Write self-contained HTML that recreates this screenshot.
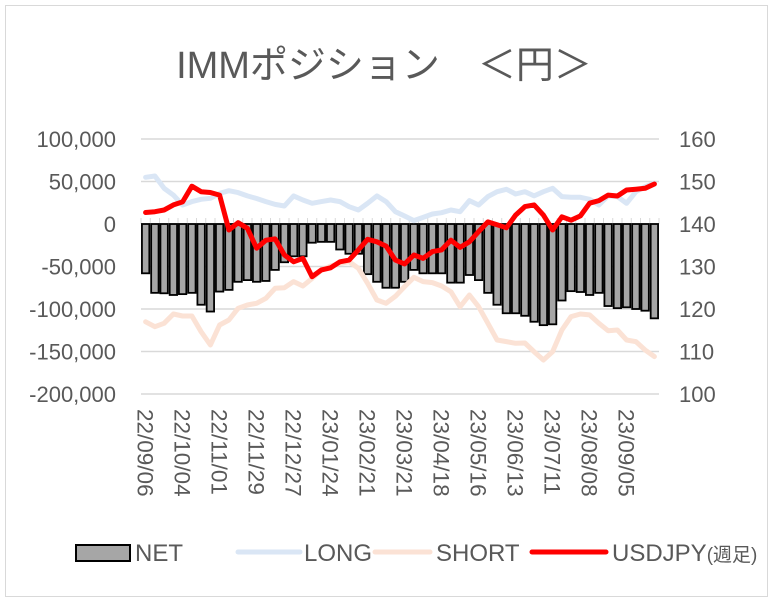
<!DOCTYPE html>
<html><head><meta charset="utf-8"><style>
html,body{margin:0;padding:0;background:#fff;}
svg{display:block;font-family:"Liberation Sans","Noto Sans CJK JP",sans-serif;}
</style></head><body>
<svg id="chart" width="773" height="601" viewBox="0 0 773 601">
<rect x="5.5" y="5.5" width="762" height="591" fill="#fff" stroke="#d9d9d9"/>
<text x="384" y="78" text-anchor="middle" font-size="38" fill="#595959">IMMポジション　＜円＞</text>
<g id="grid"></g><g id="bars"></g><g id="lines"></g><g id="axes"></g>
<g>
<rect x="76" y="545" width="54" height="16" fill="#a6a6a6" stroke="#000" stroke-width="2"/>
<text x="135" y="561" font-size="24" fill="#595959">NET</text>
<line x1="238" y1="552" x2="300" y2="552" stroke="#dae6f5" stroke-width="5" stroke-linecap="round"/>
<text x="304" y="561" font-size="24" fill="#595959">LONG</text>
<line x1="375" y1="552" x2="430" y2="552" stroke="#fbe2d5" stroke-width="5" stroke-linecap="round"/>
<text x="436" y="561" font-size="24" fill="#595959">SHORT</text>
<line x1="532" y1="552" x2="606" y2="552" stroke="#ff0000" stroke-width="5" stroke-linecap="round"/>
<text x="612" y="561" font-size="24" fill="#595959">USDJPY<tspan font-size="19">(週足)</tspan></text>
</g>
</svg>
<script>
const xLabels=["22/09/06","22/10/04","22/11/01","22/11/29","22/12/27","23/01/24","23/02/21","23/03/21","23/04/18","23/05/16","23/06/13","23/07/11","23/08/08","23/09/05"];
const leftTicks=[100000,50000,0,-50000,-100000,-150000,-200000];
const rightTicks=[160,150,140,130,120,110,100];
const netValues=[-58,-81,-81.5,-83.5,-82.5,-81,-95,-103,-79.5,-77.5,-68,-66,-68,-67,-54,-45,-38,-38,-22,-21,-21,-30,-35,-35,-59,-68,-75,-75,-68,-54,-58,-58,-58,-69,-69,-60,-66,-81,-95,-105,-105,-108,-115,-119,-118,-90,-79,-80,-83.5,-81,-96.5,-99,-98,-100,-102,-111];
const longValues=[55,56.5,42,34,22.4,26.3,29,30.2,36,39.2,36.9,33,30,26.3,23.1,21.2,33,28.2,24.3,26.3,28.2,26.3,20.4,16.5,24.3,33,26.3,14.5,9.4,4,7.8,11.8,13.3,16.5,14.5,27.5,22.4,32.2,38,40.8,35.3,38,33,38,42,32.2,31.4,31.4,29,22.4,33,32.2,24.3,38,43.9,47.9];
const shortValues=[-115,-120.8,-116.8,-105.9,-108.2,-108.2,-126.7,-142.4,-118.8,-112.9,-99.2,-95.3,-93.3,-87.4,-75.7,-74.9,-67.8,-72.9,-64,-54.1,-49.4,-46.3,-44.3,-52.1,-69.8,-89.4,-93.3,-85,-73.7,-62.7,-67.8,-69,-72.9,-79.6,-97.3,-83.5,-97.3,-116.8,-136.5,-138.4,-140.4,-140,-150.2,-160,-150.2,-124.7,-109,-105.9,-107,-116.8,-125.5,-124.7,-136.5,-138.4,-148.2,-156];
const usdjpyValues=[142.7,142.9,143.3,144.5,145.2,148.9,147.6,147.4,146.8,138.6,140.3,139,134.3,136.2,136.5,132.7,131.1,131.9,127.6,129.2,129.7,131.1,131.5,133.9,136.4,135.8,134.8,131.5,130.6,132.7,131.9,133.5,133.9,136.2,134.5,135.8,138.2,140.5,139.8,139.1,142.1,144.1,144.5,142.1,138.6,141.7,140.9,141.9,144.9,145.5,146.8,146.6,148,148.2,148.4,149.4];

const NS="http://www.w3.org/2000/svg";
const X0=141,X1=659,Y0=139,Y1=394;
const n=netValues.length, step=(X1-X0)/n;
function xAt(i){return X0+step*(i+0.5);}
function yL(v){return Y0+(100000-v)/300000*(Y1-Y0);}
function yR(v){return Y0+(160-v)/60*(Y1-Y0);}
function mk(tag,attrs,parent){const e=document.createElementNS(NS,tag);for(const k in attrs)e.setAttribute(k,attrs[k]);parent.appendChild(e);return e;}
const grid=document.getElementById('grid'),bars=document.getElementById('bars'),lines=document.getElementById('lines'),axes=document.getElementById('axes');
leftTicks.forEach((t,i)=>{
  const y=yL(t);
  const g=mk('line',{x1:X0,x2:X1,y1:y,y2:y,stroke:'#d9d9d9','stroke-width':1.5},grid);
  
  
  const tx=mk('text',{x:116,y:y+8,'text-anchor':'end','font-size':22,fill:'#595959'},axes);
  tx.textContent=t.toLocaleString('en-US');
  
  
});
rightTicks.forEach(t=>{
  const tx=mk('text',{x:679,y:yR(t)+8,'font-size':22,fill:'#595959'},axes);
  tx.textContent=t;
  
  
});
for(let i=0;i<=n;i++){
  const x=X0+step*i;
  const tk=mk('line',{x1:x,x2:x,y1:yL(0)-6,y2:yL(0),stroke:'#d9d9d9','stroke-width':1},grid);
  
  
}
netValues.forEach((v,i)=>{
  const y0=yL(0),y=yL(v*1000);
  const r=mk('rect',{x:xAt(i)-step*0.4,y:Math.min(y0,y),width:step*0.8,height:Math.abs(y-y0),fill:'#a6a6a6',stroke:'#000','stroke-width':1.8},bars);
  
  
});
function line(vals,fy,color,w,name){
  const d=vals.map((v,i)=>(i?'L':'M')+xAt(i).toFixed(1)+','+fy(v).toFixed(1)).join('');
  const p=mk('path',{d:d,fill:'none',stroke:color,'stroke-width':w,'stroke-linejoin':'round','stroke-linecap':'round'},lines);
  
  
}
line(longValues,v=>yL(v*1000),'#dae6f5',5,'long-line');
line(shortValues,v=>yL(v*1000),'#fbe2d5',5,'short-line');
line(usdjpyValues,yR,'#ff0000',5,'usdjpy-line');
xLabels.forEach((s,k)=>{
  const x=xAt(k*4)-8,y=409;
  const tx=mk('text',{x:x,y:y,'font-size':22.5,fill:'#595959',transform:'rotate(90 '+x+' '+y+')'},axes);
  tx.textContent=s;
  
  
});
</script>
</body></html>
